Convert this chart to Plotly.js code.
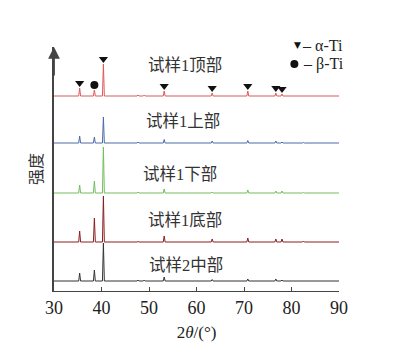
<!DOCTYPE html>
<html>
<head>
<meta charset="utf-8">
<script src="https://cdn.plot.ly/plotly-3.0.1.min.js"></script>
<style>html,body{margin:0;padding:0;background:#fff;}#chart{width:400px;height:355px;}</style>
</head>
<body>
<div id="chart"></div>
<script>
// Diffraction peak positions (2θ, degrees)
var peakPos = [35.4, 38.5, 40.4, 47.7, 49.0, 53.2, 63.3, 70.8, 76.7, 78.0, 82.5, 87.0];
// Sample names
var sampleNames = ["试样1顶部", "试样1上部", "试样1下部", "试样1底部", "试样2中部"];
// Vertical stacking offsets of each pattern
var offsets = [195, 148, 98, 49, 10];
// Peak intensities for each sample (same order as peakPos)
var hTop    = [8, 6, 32, 1, 1, 5, 3, 5, 3, 2, 0.5, 0.5];
var hUpper  = [7, 6, 26, 1, 0.5, 3.5, 2, 2.5, 2, 1, 0.5, 0.5];
var hLower  = [8, 12, 46, 1, 0.5, 4, 1, 3, 2, 2, 0.5, 0.5];
var hBottom = [11, 24, 46, 0.5, 0.5, 6, 3, 4, 3, 3, 1, 0.5];
var hMid2   = [8, 11, 38, 1, 1, 4, 1.5, 2, 2, 1, 0.5, 0.5];
// Phase identification on the top pattern
var alphaPeaks = [35.4, 40.4, 53.2, 63.3, 70.8, 76.7, 78.0];
var betaPeaks = [38.5];
var xTicks = [30, 40, 50, 60, 70, 80, 90];

var heights = [hTop, hUpper, hLower, hBottom, hMid2];
var colors = ["#dc5a5a", "#4c6aa8", "#72bd5c", "#8a1f1f", "#333333"];
var halfW = 0.2;
var serif = 'Liberation Serif, DejaVu Serif, serif';

function buildPattern(h, base) {
  var xs = [30], ys = [base];
  for (var i = 0; i < peakPos.length; i++) {
    xs.push(peakPos[i] - halfW, peakPos[i], peakPos[i] + halfW);
    ys.push(base, base + h[i], base);
  }
  xs.push(90); ys.push(base);
  return {x: xs, y: ys};
}

var traces = [];
for (var s = 0; s < heights.length; s++) {
  var p = buildPattern(heights[s], offsets[s]);
  traces.push({x: p.x, y: p.y, type: 'scatter', mode: 'lines',
    line: {color: colors[s], width: 1}, hoverinfo: 'skip'});
}

function peakTop(pos) {
  var i = peakPos.indexOf(pos);
  return offsets[0] + hTop[i] + 5;
}
traces.push({x: alphaPeaks, y: alphaPeaks.map(peakTop), type: 'scatter', mode: 'markers',
  marker: {symbol: 'triangle-down', size: 8, color: '#111'}, cliponaxis: false});
traces.push({x: betaPeaks, y: betaPeaks.map(peakTop), type: 'scatter', mode: 'markers',
  marker: {symbol: 'circle', size: 8, color: '#111'}, cliponaxis: false});
// legend circle symbol
traces.push({x: [80.6], y: [227], type: 'scatter', mode: 'markers',
  marker: {symbol: 'circle', size: 8, color: '#111'}, cliponaxis: false});

var labelPos = [[57.5, 226], [57.1, 170], [56.6, 117], [57.5, 71], [57.7, 26]];
var annotations = [];
for (var k = 0; k < sampleNames.length; k++) {
  annotations.push({x: labelPos[k][0], y: labelPos[k][1], xref: 'x', yref: 'y',
    text: sampleNames[k], showarrow: false,
    font: {family: 'Liberation Serif, Noto Sans CJK SC', size: 16.5, color: '#333'}});
}
// legend α-Ti (paper coords, above the plot area)
annotations.push({x: 0.836, y: 1.008, xref: 'paper', yref: 'paper', xanchor: 'left', yanchor: 'middle',
  text: '▼', showarrow: false,
  font: {family: 'DejaVu Sans', size: 9, color: '#111'}});
annotations.push({x: 0.864, y: 1.008, xref: 'paper', yref: 'paper', xanchor: 'left', yanchor: 'middle',
  text: '– α-Ti', showarrow: false, font: {family: serif, size: 16, color: '#222'}});
annotations.push({x: 81.9, y: 227, xref: 'x', yref: 'y', xanchor: 'left', yanchor: 'middle', text: '– β-Ti',
  showarrow: false, font: {family: serif, size: 16, color: '#222'}});
// y axis title
annotations.push({x: 0, y: 0.5, xref: 'paper', yref: 'paper', xanchor: 'right', xshift: -5,
  text: '强度', textangle: -90, showarrow: false,
  font: {family: 'Noto Sans CJK SC', size: 16, color: '#333'}});
// y axis arrow
annotations.push({x: 0, y: 1, xref: 'paper', yref: 'paper', ax: 0, ay: 30, axref: 'pixel', ayref: 'pixel',
  text: '', showarrow: true, arrowhead: 2, arrowsize: 1.3, arrowwidth: 1.8, arrowcolor: '#444', standoff: 0});

var layout = {
  width: 400, height: 355,
  margin: {l: 54, r: 61, t: 47, b: 64},
  paper_bgcolor: '#fff', plot_bgcolor: '#fff',
  showlegend: false,
  xaxis: {range: [30, 90], tickvals: xTicks, ticktext: xTicks.map(String),
    ticks: 'inside', ticklen: 4, tickcolor: '#444', showline: true, linecolor: '#444', linewidth: 1,
    showgrid: false, zeroline: false,
    tickfont: {family: serif, size: 18, color: '#222'},
    title: {text: '2<i>θ</i>/(°)', font: {family: serif, size: 17, color: '#222'}, standoff: 9}},
  yaxis: {range: [0, 244], showticklabels: false, ticks: '', showgrid: false, zeroline: false,
    showline: true, linecolor: '#444', linewidth: 1.8},
  annotations: annotations
};

Plotly.newPlot('chart', traces, layout, {displayModeBar: false, staticPlot: true});
</script>
</body>
</html>
